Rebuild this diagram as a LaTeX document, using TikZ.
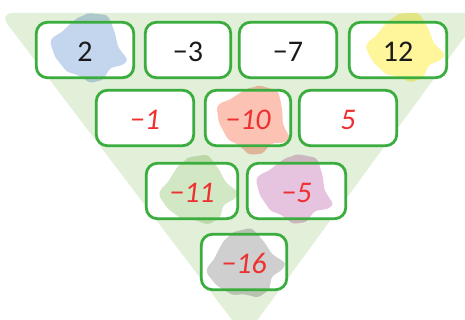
\documentclass[tikz,border=0pt]{standalone}
\usepackage{fontspec}
\setmainfont{Carlito}
\usetikzlibrary{fit}
\definecolor{trigreen}{HTML}{E2EFD9}
\definecolor{boxgreen}{HTML}{3AAD3E}
\definecolor{numred}{HTML}{EE3030}
\definecolor{numblack}{HTML}{1A1A1A}
\definecolor{bblue}{HTML}{C3D6EE}
\definecolor{byellow}{HTML}{FFF59A}
\definecolor{bred}{HTML}{FCC2B4}
\definecolor{bgreen}{HTML}{D2E7C4}
\definecolor{bpink}{HTML}{E6C4DF}
\definecolor{bgray}{HTML}{CFCFCF}
\tikzset{
  blob/.pic={\path[pic actions, rounded corners=3pt] (-1,-35) -- (18,-33) -- (21,-28) -- (26,-15) -- (29,-1) -- (39,12) -- (34,17) -- (21,20) -- (14,32) -- (1,35) -- (-11,27) -- (-22,24) -- (-34,9) -- (-39,-6) -- (-36,-11) -- (-27,-16) -- (-22,-21) -- (-12,-30) -- (-4,-33) -- cycle;},
  cell/.style={rectangle, rounded corners=11pt, minimum height=55pt, inner sep=0pt, fill=white},
  frame/.style={rectangle, rounded corners=11pt, inner sep=0pt, draw=boxgreen, line width=2.8pt},
  givennum/.style={text=numblack, font=\fontsize{30}{32}\selectfont, yshift=-1.5pt},
  answernum/.style={text=numred, font=\fontsize{30}{32}\selectfont\itshape, yshift=-1.5pt},
  given/.style={frame, label={[givennum]center:#1}},
  answer/.style={frame, label={[answernum]center:#1}},
  blobfill/.style={fill=#1, blend mode=multiply}
}
\begin{document}
\begin{tikzpicture}[x=1pt,y=-1pt]
\useasboundingbox (0,0) rectangle (465,320);
\begin{scope}
\clip (0,0) rectangle (465,320);
\fill[trigreen, rounded corners=14pt] (-1,13) -- (482,13) -- (245,337) -- cycle;
\end{scope}
% cell backgrounds
\node[cell, minimum width=97pt] (b1) at (85,50) {};
\node[cell, minimum width=85pt] (b2) at (188,50) {};
\node[cell, minimum width=97pt] (b3) at (288,50) {};
\node[cell, minimum width=97pt] (b4) at (398,50) {};
\node[cell, minimum width=97pt] (b5) at (145,118) {};
\node[cell, minimum width=85pt] (b6) at (248,118) {};
\node[cell, minimum width=97pt] (b7) at (348,118) {};
\node[cell, minimum width=91pt] (b8) at (192,191) {};
\node[cell, minimum width=98pt] (b9) at (296.5,191) {};
\node[cell, minimum width=85pt] (b10) at (244,262) {};
% blobs
\pic[blobfill=bblue] at (89,48) {blob};
\pic[blobfill=byellow, rotate=8] at (405,48) {blob};
\pic[blobfill=bred, rotate=-10] at (254,120) {blob};
\pic[blobfill=bgreen, rotate=15] at (198,191) {blob};
\pic[blobfill=bpink, rotate=-5, xscale=1.02] at (295,189) {blob};
\pic[blobfill=bgray, rotate=20] at (245,265) {blob};
% frames and numbers
\node[given={2}, fit=(b1)] (n1) {};
\node[given={−3}, fit=(b2)] (n2) {};
\node[given={−7}, fit=(b3)] (n3) {};
\node[given={12}, fit=(b4)] (n4) {};
\node[answer={−1}, fit=(b5)] (n5) {};
\node[answer={−10}, fit=(b6)] (n6) {};
\node[answer={5}, fit=(b7)] (n7) {};
\node[answer={−11}, fit=(b8)] (n8) {};
\node[answer={−5}, fit=(b9)] (n9) {};
\node[answer={−16}, fit=(b10)] (n10) {};
\end{tikzpicture}
\end{document}
